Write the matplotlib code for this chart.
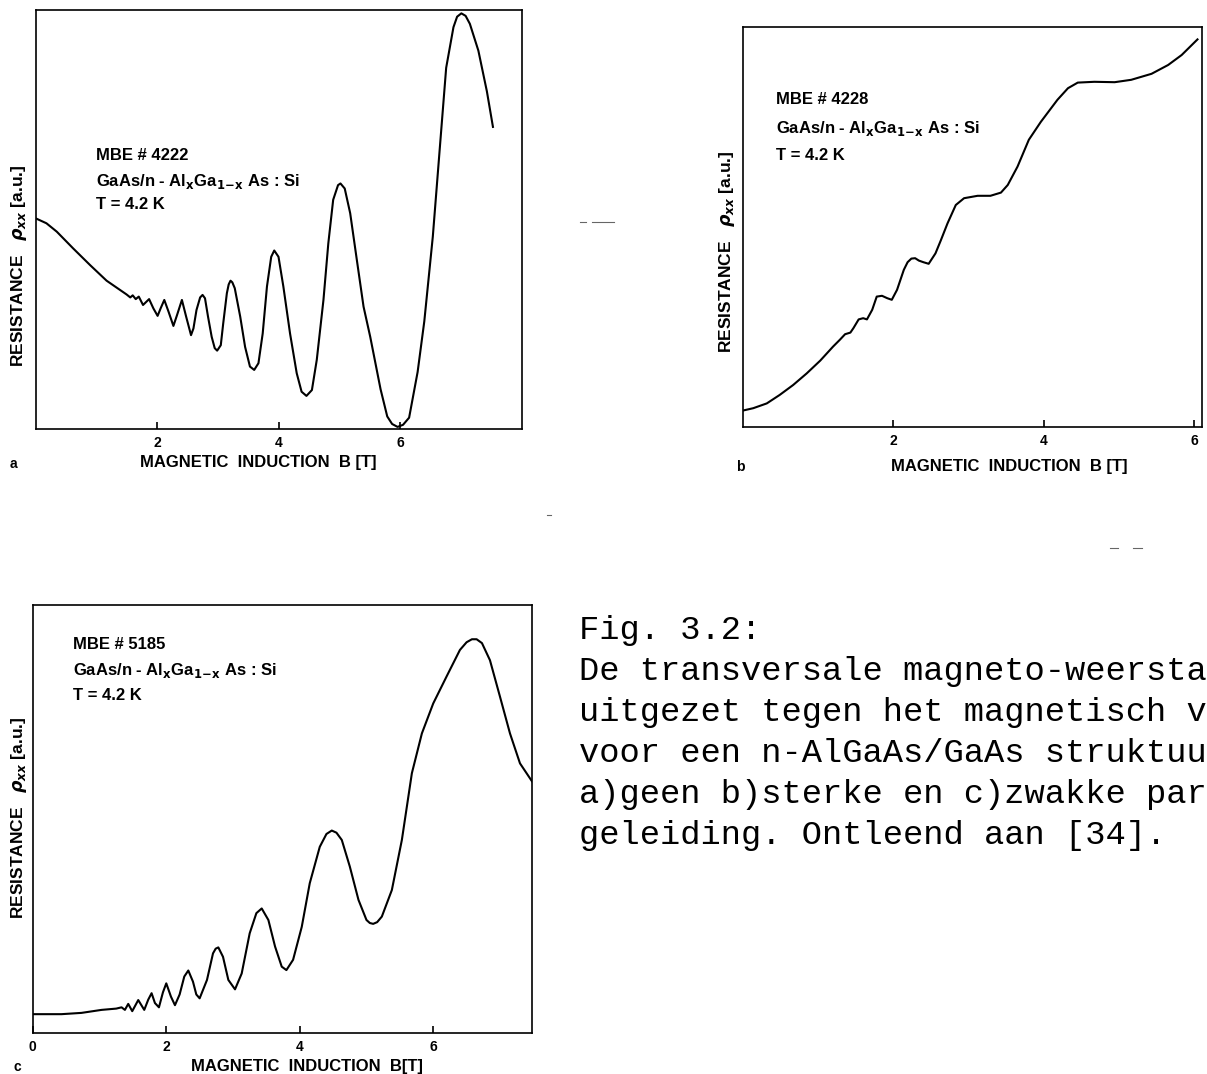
import matplotlib.pyplot as plt
from matplotlib.lines import Line2D

# (a) MBE #4222 - no parallel conduction
b_a = [0.00, 0.18, 0.35, 0.62, 0.90, 1.17, 1.39, 1.50, 1.56, 1.60, 1.65, 1.70, 1.77,
       1.87, 1.94, 2.01, 2.06, 2.12, 2.19, 2.27, 2.33, 2.41, 2.48, 2.56, 2.60, 2.65,
       2.71, 2.75, 2.79, 2.84, 2.90, 2.95, 2.99, 3.05, 3.09, 3.15, 3.18, 3.21, 3.24,
       3.28, 3.37, 3.45, 3.53, 3.60, 3.67, 3.74, 3.81, 3.88, 3.93, 4.00, 4.08, 4.19,
       4.30, 4.38, 4.46, 4.55, 4.63, 4.74, 4.82, 4.90, 4.98, 5.02, 5.09, 5.18, 5.29,
       5.40, 5.51, 5.68, 5.79, 5.87, 5.96, 6.05, 6.15, 6.29, 6.40, 6.54, 6.65, 6.76,
       6.88, 6.94, 7.01, 7.08, 7.15, 7.29, 7.43, 7.53]
rho_a = [50.3, 49.1, 47.1, 43.1, 39.1, 35.4, 33.2, 32.1, 31.4, 31.9, 31.0, 31.6, 29.6,
         31.0, 28.8, 27.0, 28.8, 30.8, 28.0, 24.6, 27.2, 30.8, 26.8, 22.4, 24.0, 28.4,
         31.4, 32.0, 31.2, 26.8, 22.0, 19.3, 18.7, 20.0, 25.2, 32.4, 34.5, 35.4, 35.0,
         33.6, 26.8, 19.6, 14.9, 14.1, 15.7, 22.8, 34.0, 41.1, 42.6, 41.1, 34.0, 22.8,
         13.3, 8.9, 7.9, 9.3, 16.5, 30.8, 44.3, 54.7, 58.2, 58.6, 57.4, 51.5, 40.3,
         29.2, 22.0, 9.5, 3.0, 1.2, 0.5, 1.0, 2.7, 13.6, 25.7, 45.9, 66.1, 86.2,
         95.9, 98.4, 99.2, 98.6, 96.7, 90.3, 80.6, 72.1]

# (b) MBE #4228 - strong parallel conduction
b_b = [0.00, 0.14, 0.32, 0.49, 0.67, 0.85, 1.03, 1.20, 1.29, 1.36, 1.43, 1.47, 1.54,
       1.60, 1.65, 1.72, 1.78, 1.85, 1.92, 1.98, 2.05, 2.14, 2.19, 2.24, 2.29, 2.34,
       2.40, 2.47, 2.56, 2.63, 2.72, 2.83, 2.94, 3.12, 3.29, 3.43, 3.52, 3.65, 3.80,
       3.96, 4.18, 4.32, 4.45, 4.67, 4.94, 5.16, 5.43, 5.65, 5.83, 6.04]
rho_b = [4.1, 4.7, 5.9, 8.0, 10.5, 13.4, 16.6, 20.1, 21.8, 23.2, 23.6, 24.7, 26.9,
         27.2, 26.9, 29.3, 32.6, 32.8, 32.2, 31.8, 34.3, 39.3, 41.2, 42.1, 42.2, 41.6,
         41.2, 40.8, 43.4, 46.6, 50.9, 55.5, 57.2, 57.8, 57.8, 58.6, 60.5, 65.1, 71.8,
         76.3, 81.8, 84.7, 86.1, 86.3, 86.2, 86.8, 88.3, 90.5, 93.0, 96.9]

# (c) MBE #5185 - weak parallel conduction
b_c = [0.00, 0.43, 0.73, 1.03, 1.25, 1.33, 1.38, 1.43, 1.49, 1.58, 1.67, 1.73, 1.78,
       1.83, 1.89, 1.95, 2.00, 2.07, 2.13, 2.20, 2.27, 2.33, 2.40, 2.45, 2.50, 2.61,
       2.70, 2.74, 2.78, 2.85, 2.93, 3.03, 3.13, 3.25, 3.35, 3.43, 3.53, 3.63, 3.73,
       3.80, 3.90, 4.03, 4.15, 4.30, 4.40, 4.48, 4.55, 4.63, 4.75, 4.88, 5.00, 5.05,
       5.10, 5.16, 5.23, 5.38, 5.53, 5.68, 5.83, 6.00, 6.20, 6.40, 6.50, 6.58, 6.65,
       6.73, 6.85, 7.00, 7.15, 7.30, 7.48]
rho_c = [4.4, 4.4, 4.7, 5.4, 5.7, 6.0, 5.4, 6.8, 5.1, 7.7, 5.4, 7.8, 9.3,
         7.0, 6.0, 9.5, 11.6, 8.5, 6.5, 9.0, 13.2, 14.6, 12.0, 9.0, 8.1, 12.4,
         18.6, 19.7, 20.0, 17.8, 12.4, 10.2, 13.9, 23.3, 28.0, 29.1, 26.4, 20.2, 15.5,
         14.7, 17.1, 24.8, 35.0, 43.5, 46.5, 47.3, 46.8, 45.1, 38.9, 31.1, 26.4, 25.7,
         25.5, 25.9, 27.2, 33.4, 45.1, 60.7, 70.0, 77.0, 83.3, 89.5, 91.3, 92.0, 92.0,
         91.1, 87.1, 78.6, 70.0, 63.0, 58.8]

samples = ["MBE # 4222", "MBE # 4228", "MBE # 5185"]
layer = r"GaAs/n - Al$_{\mathbf{x}}$Ga$_{\mathbf{1\!-\!x}}$ As : Si"
temp = "T = 4.2 K"

caption = ["Fig. 3.2:",
           "De transversale magneto-weersta",
           "uitgezet tegen het magnetisch v",
           "voor een n-AlGaAs/GaAs struktuu",
           "a)geen b)sterke en c)zwakke par",
           "geleiding. Ontleend aan [34]."]

plt.rcParams['font.family'] = 'Liberation Sans'
plt.rcParams['font.weight'] = 'bold'
plt.rcParams['mathtext.fontset'] = 'dejavusans'

W, H = 1207, 1074
fig = plt.figure(figsize=(W / 100, H / 100), dpi=100)


def px_axes(left, top, right, bottom):
    return fig.add_axes([left / W, 1 - bottom / H, (right - left) / W, (bottom - top) / H])


def fig_text(x, y, s, **kw):
    fig.text(x / W, 1 - y / H, s, **kw)


def draw_panel(ax, B, rho, xmax, ticks, name, text_x, text_y):
    ax.plot(B, rho, color='black', lw=1.5, solid_joinstyle='round')
    ax.set_xlim(0, xmax)
    ax.set_ylim(0, 100)
    ax.set_xticks(ticks)
    ax.set_xticklabels([str(t) for t in ticks], fontsize=10, fontweight='bold')
    ax.set_yticks([])
    ax.tick_params(axis='x', direction='in', length=5, width=1.2, pad=5)
    for sp in ax.spines.values():
        sp.set_linewidth(1.2)
    for s, y in zip([name, layer, temp], text_y):
        ax.text(text_x, y, s, fontsize=12, fontweight='bold', va='center')


ax_a = px_axes(35.5, 10, 521.5, 429)
draw_panel(ax_a, b_a, rho_a, 8.0, [2, 4, 6], samples[0], 1.0, [65.3, 59.1, 53.6])

ax_b = px_axes(742.7, 27, 1202, 427)
draw_panel(ax_b, b_b, rho_b, 6.1, [2, 4, 6], samples[1], 0.44, [81.8, 74.7, 68.0])

ax_c = px_axes(32.8, 605, 532, 1033)
draw_panel(ax_c, b_c, rho_c, 7.48, [0, 2, 4, 6], samples[2], 0.6, [90.7, 84.7, 78.8])

# axis titles and panel letters
ylab = r"RESISTANCE   $\rho_{xx}$ [a.u.]"
fig_text(19, 266, ylab, rotation=90, fontsize=12.5, ha='center', va='center')
fig_text(727, 252, ylab, rotation=90, fontsize=12.5, ha='center', va='center')
fig_text(19, 818, ylab, rotation=90, fontsize=12.5, ha='center', va='center')

fig_text(258, 463, "MAGNETIC  INDUCTION  B [T]", fontsize=12, ha='center', va='center')
fig_text(1009, 467, "MAGNETIC  INDUCTION  B [T]", fontsize=12, ha='center', va='center')
fig_text(307, 1067, "MAGNETIC  INDUCTION  B[T]", fontsize=12, ha='center', va='center')

fig_text(10, 464, "a", fontsize=10, ha='left', va='center')
fig_text(736, 467, "b", fontsize=10, ha='left', va='center')
fig_text(14, 1067, "c", fontsize=10, ha='left', va='center')

# figure caption in typewriter font
for i, line in enumerate(caption):
    fig_text(579, 639 + i * 41, line, family='Liberation Mono', fontweight='normal',
             fontsize=24.3, ha='left', va='baseline')

# stray dashes of the printed page
for x0, x1, y in [(580, 586, 222), (592, 614, 222), (547, 551, 515),
                  (1110, 1118, 548), (1133, 1142, 548)]:
    fig.add_artist(Line2D([x0 / W, x1 / W], [1 - y / H, 1 - y / H],
                          color='black', lw=0.8, alpha=0.6))

fig.savefig('out.png', dpi=100)
